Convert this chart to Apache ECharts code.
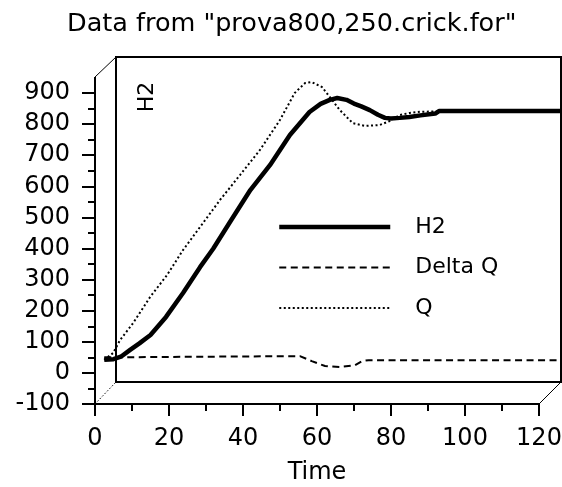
<!DOCTYPE html>
<html>
<head>
<meta charset="utf-8">
<script src="https://cdn.jsdelivr.net/npm/echarts@6/dist/echarts.min.js"></script>
<style>html,body{margin:0;padding:0;background:#fff}#c{width:562px;height:487px}</style>
</head>
<body>
<div id="c"></div>
<script>
var titleText = 'Data from "prova800,250.crick.for"';
var seriesNames = ['H2', 'Delta Q', 'Q'];
var xTicks = [0, 20, 40, 60, 80, 100, 120];
var yTicks = [-100, 0, 100, 200, 300, 400, 500, 600, 700, 800, 900];

var h2Time = [2.5, 5, 7, 9.5, 12, 15, 19.2, 23.8, 28.4, 32, 36.5, 42, 47.3, 52.7, 58, 61, 63.5, 65.5, 68, 70, 72, 74.3, 76.5, 78.4, 80, 82.4, 85, 88, 92, 93, 100, 126];
var h2Vals = [42, 44, 52, 74, 95, 122, 180, 257, 340, 400, 485, 588, 668, 765, 839, 865, 878, 884, 878, 866, 857, 845, 830, 820, 818, 820, 823, 828, 834, 842, 842, 842];

var dqTime = [2.5, 55.4, 58.6, 62.2, 66.2, 70.3, 72.2, 74, 126];
var dqVals = [50, 54, 38, 22, 19, 25, 38, 41, 41];

var qTime = [2.5, 4.9, 6.8, 10.3, 14.9, 19.5, 23.8, 28.4, 33.8, 39.2, 44.6, 50, 54, 56.8, 58.6, 61.4, 63.5, 66.2, 69.7, 73, 77, 79.7, 82.4, 85.1, 88, 126];
var qVals = [42, 64, 106, 160, 244, 315, 395, 469, 556, 636, 717, 813, 900, 932, 935, 919, 887, 845, 803, 794, 797, 810, 829, 836, 840, 842];

function pairs(t, v) { return t.map(function (x, i) { return [x, v[i]]; }); }

var FONT = 'DejaVu Sans';
var chart = echarts.init(document.getElementById('c'));
chart.setOption({
  animation: false,
  backgroundColor: '#fff',
  title: {
    text: titleText, left: 62, top: 6,
    textStyle: { fontFamily: FONT, fontSize: 25.5, fontWeight: 'normal', color: '#000' }
  },
  legend: {
    orient: 'vertical', left: 272, top: 211,
    itemWidth: 111, itemHeight: 14, itemGap: 18.5,
    data: seriesNames,
    itemStyle: { opacity: 0 },
    lineStyle: { width: 'inherit', type: 'inherit' },
    textStyle: { fontFamily: FONT, fontSize: 22, color: '#000', padding: [0, 0, 0, 20] }
  },
  grid: [
    { left: 95, right: 23, top: 93, bottom: 83, outerBoundsMode: 'none', containLabel: false },
    { left: 116, right: 1, top: 57, bottom: 105, outerBoundsMode: 'none', show: true, borderColor: '#000', borderWidth: 2, backgroundColor: 'transparent', z: 0 },
    { left: 95, right: 1, top: 93, bottom: 83, outerBoundsMode: 'none' }
  ],
  xAxis: [
    {
      type: 'value', gridIndex: 0, min: xTicks[0], max: xTicks[xTicks.length - 1], interval: 20,
      name: 'Time', nameLocation: 'middle', nameGap: 57,
      nameTextStyle: { fontFamily: FONT, fontSize: 24, color: '#000' },
      axisLine: { show: true, onZero: false, lineStyle: { color: '#000', width: 2 } },
      axisTick: { show: true, length: 12, lineStyle: { color: '#000', width: 2 } },
      minorTick: { show: true, splitNumber: 2, length: 7, lineStyle: { color: '#000', width: 2 } },
      axisLabel: { fontFamily: FONT, fontSize: 24, color: '#000', margin: 23 },
      splitLine: { show: false }
    },
    { type: 'value', gridIndex: 1, min: 0, max: 120, show: false },
    { type: 'value', gridIndex: 2, min: 0, max: 126, show: false }
  ],
  yAxis: [
    {
      type: 'value', gridIndex: 0, min: yTicks[0], max: yTicks[yTicks.length - 1], interval: 100,
      axisLine: { show: true, onZero: false, lineStyle: { color: '#000', width: 2 } },
      axisTick: { show: true, length: 13, lineStyle: { color: '#000', width: 2 } },
      minorTick: { show: true, splitNumber: 2, length: 7, lineStyle: { color: '#000', width: 2 } },
      axisLabel: { fontFamily: FONT, fontSize: 24, color: '#000', margin: 25 },
      splitLine: { show: false }
    },
    { type: 'value', gridIndex: 1, min: -100, max: 950, show: false },
    { type: 'value', gridIndex: 2, min: -100, max: 900, show: false }
  ],
  graphic: [
    { type: 'line', z: 5, shape: { x1: 95, y1: 77, x2: 95, y2: 94 }, style: { stroke: '#000', lineWidth: 2 } },
    { type: 'line', z: 5, shape: { x1: 95, y1: 77, x2: 116, y2: 57 }, style: { stroke: '#000', lineWidth: 1 } },
    { type: 'line', z: 5, shape: { x1: 95, y1: 404, x2: 116, y2: 382 }, style: { stroke: '#000', lineWidth: 1, lineDash: [1.5, 2] } },
    { type: 'line', z: 5, shape: { x1: 539, y1: 404, x2: 561, y2: 382 }, style: { stroke: '#000', lineWidth: 1 } },
    { type: 'text', z: 5, x: 147, y: 97, rotation: Math.PI / 2,
      style: { text: 'H2', fontFamily: FONT, fontSize: 22, fill: '#000', align: 'center', verticalAlign: 'middle' } }
  ],
  series: [
    { name: seriesNames[0], type: 'line', xAxisIndex: 2, yAxisIndex: 2, clip: false, symbol: 'none', z: 4,
      data: pairs(h2Time, h2Vals), lineStyle: { color: '#000', width: 4.5 }, itemStyle: { color: '#000' } },
    { name: seriesNames[1], type: 'line', xAxisIndex: 2, yAxisIndex: 2, clip: false, symbol: 'none', z: 3,
      data: pairs(dqTime, dqVals), lineStyle: { color: '#000', width: 2, type: [7, 4.5] }, itemStyle: { color: '#000' } },
    { name: seriesNames[2], type: 'line', xAxisIndex: 2, yAxisIndex: 2, clip: false, symbol: 'none', z: 3,
      data: pairs(qTime, qVals), lineStyle: { color: '#000', width: 2, type: [2, 2.5] }, itemStyle: { color: '#000' } }
  ]
});
</script>
</body>
</html>
